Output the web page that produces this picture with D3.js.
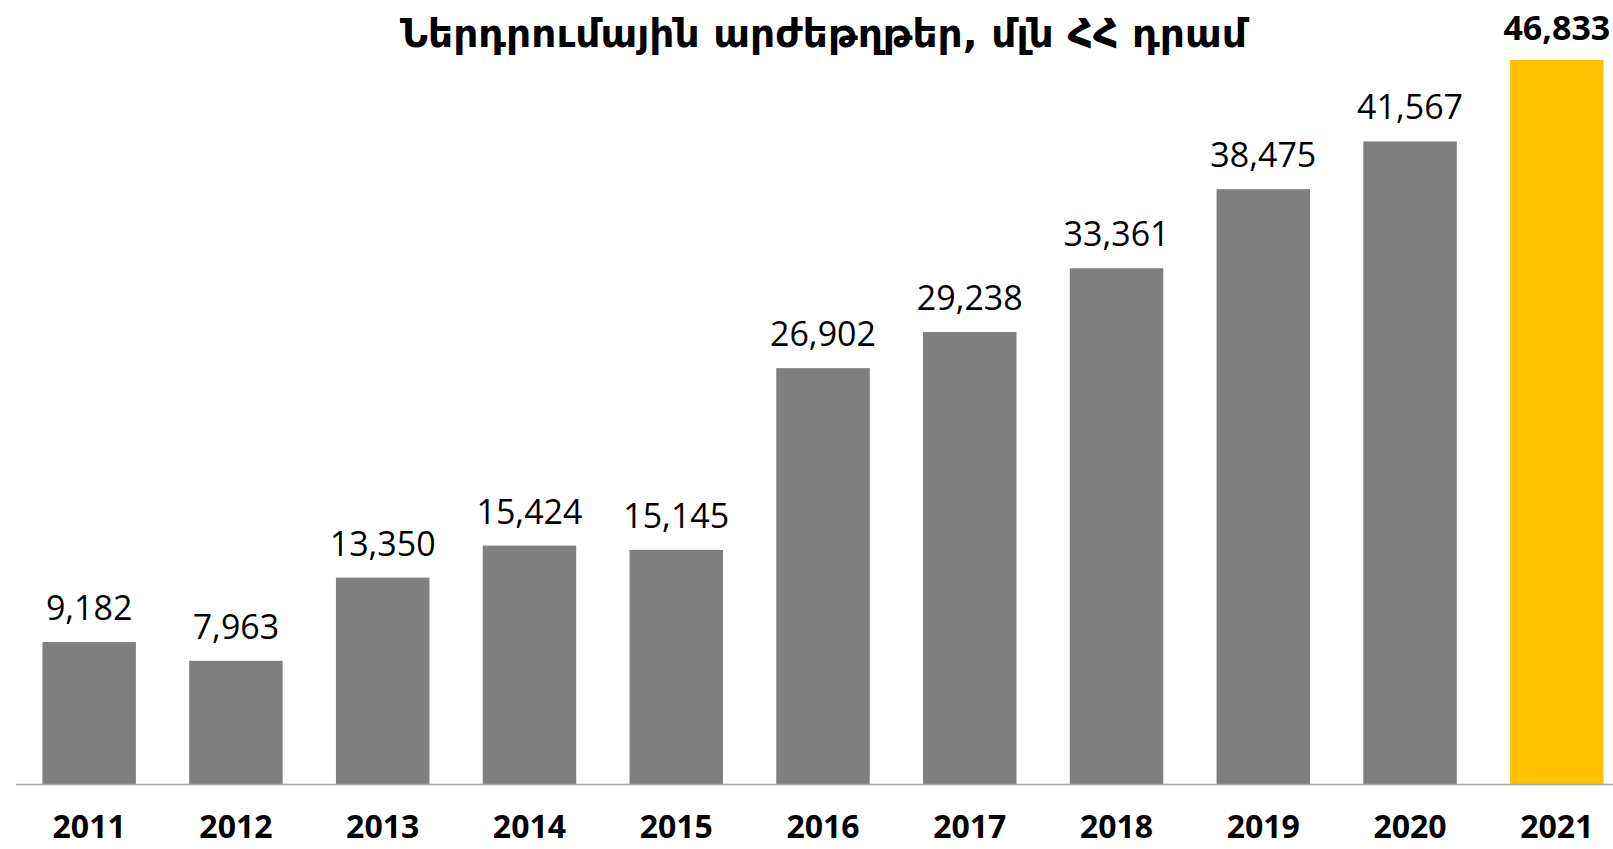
<!DOCTYPE html>
<html>
<head>
<meta charset="utf-8">
<script src="https://cdn.jsdelivr.net/npm/d3@7"></script>
<style>
    html, body { margin: 0; padding: 0; background: #fff; }
    svg { display: block; }
</style>
</head>
<body>
<div id="chart"></div>
<script>
// data
const years = ["2011", "2012", "2013", "2014", "2015", "2016", "2017", "2018", "2019", "2020", "2021"];
const values = [9182, 7963, 13350, 15424, 15145, 26902, 29238, 33361, 38475, 41567, 46833];
const title = "Ներդրումային արժեթղթեր, մլն ՀՀ դրամ";
const highlightYear = "2021";

const width = 1613, height = 849;
const baseY = 784, topY = 60;

const svg = d3.select("#chart")
    .append("svg")
    .attr("width", width)
    .attr("height", height);

// scales
const x = d3.scaleBand()
    .domain(years)
    .range([16, 1630])
    .paddingInner(0.363)
    .paddingOuter(0.18);

const y = d3.scaleLinear()
    .domain([0, d3.max(values)])
    .range([baseY, topY]);

const data = years.map((yr, i) => ({year: yr, value: values[i]}));
const fmt = d3.format(",");

// title
svg.append("text")
    .attr("x", 823.5)
    .attr("y", 47)
    .attr("text-anchor", "middle")
    .attr("textLength", 847)
    .attr("lengthAdjust", "spacingAndGlyphs")
    .style("font-family", "'DejaVu Sans', sans-serif")
    .style("font-weight", "bold")
    .style("font-size", "39px")
    .style("fill", "#000")
    .text(title);

// bars
svg.selectAll("rect.bar")
    .data(data)
    .enter().append("rect")
    .attr("class", "bar")
    .attr("x", d => x(d.year))
    .attr("y", d => y(d.value))
    .attr("width", x.bandwidth())
    .attr("height", d => y(0) - y(d.value))
    .attr("fill", d => d.year === highlightYear ? "#FFC000" : "#7F7F7F");

// baseline
svg.append("line")
    .attr("x1", 16)
    .attr("x2", width)
    .attr("y1", y(0) + 0.5)
    .attr("y2", y(0) + 0.5)
    .attr("stroke", "#A6A6A6")
    .attr("stroke-width", 1.5);

// value labels
svg.selectAll("text.val")
    .data(data)
    .enter().append("text")
    .attr("class", "val")
    .attr("x", d => x(d.year) + x.bandwidth() / 2)
    .attr("y", d => y(d.value) - (d.year === highlightYear ? 20 : 22))
    .attr("text-anchor", "middle")
    .style("font-family", "'Open Sans', sans-serif")
    .style("font-size", "34px")
    .style("font-weight", d => d.year === highlightYear ? "bold" : "normal")
    .style("fill", "#000")
    .text(d => fmt(d.value));

// x axis labels
const xAxis = svg.append("g")
    .attr("transform", `translate(0,${baseY})`)
    .call(d3.axisBottom(x).tickSize(0).tickPadding(0));
xAxis.select(".domain").remove();
xAxis.selectAll("text")
    .attr("dy", null)
    .attr("y", 54)
    .style("font-family", "'Open Sans', sans-serif")
    .style("font-size", "32px")
    .style("font-weight", "bold")
    .style("fill", "#000");
</script>
</body>
</html>
